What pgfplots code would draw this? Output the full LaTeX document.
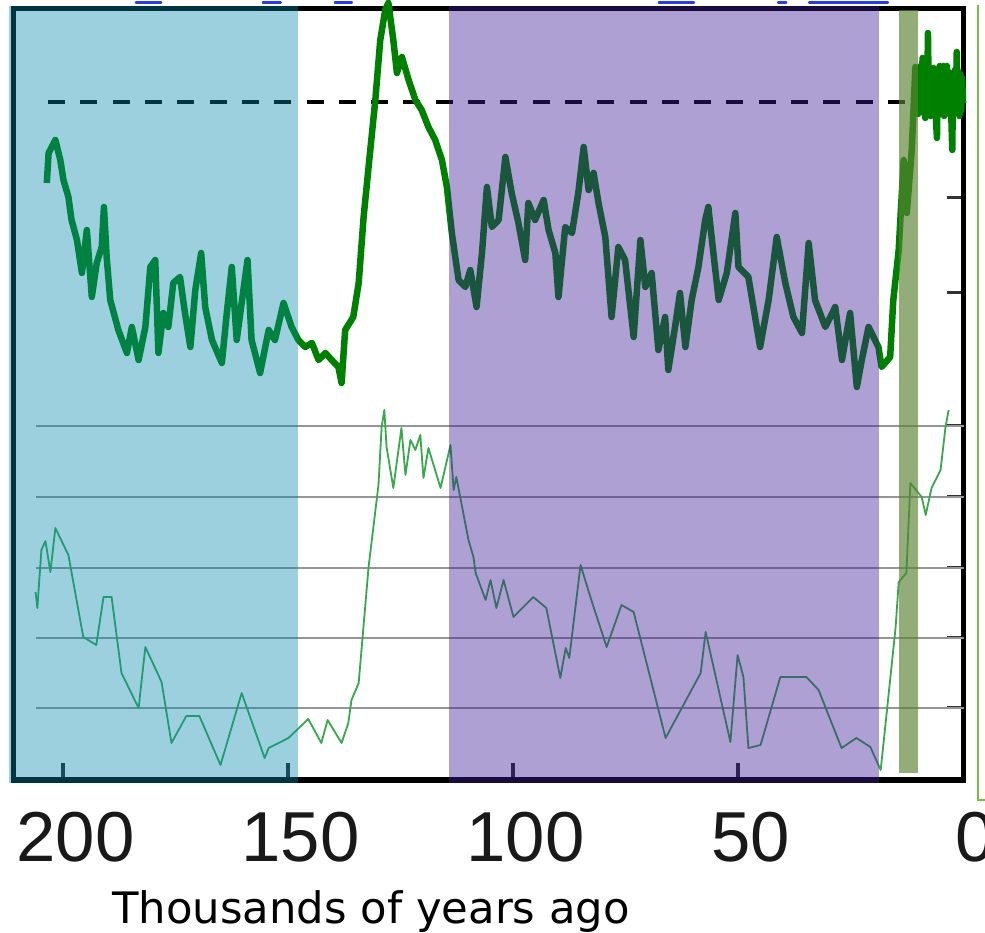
\documentclass[border=0pt]{standalone}
\usepackage{fontspec}
\setmainfont{DejaVu Sans}
\newfontfamily\tickfont{Liberation Sans}
\usepackage{pgfplots}
\pgfplotsset{compat=1.18}
\definecolor{topgreen}{RGB}{0,128,0}
\definecolor{lowgreen}{RGB}{55,168,75}
\definecolor{bandblue}{RGB}{0,135,173}
\definecolor{bandpurple}{RGB}{62,28,148}
\definecolor{bandolive}{RGB}{91,130,50}
\definecolor{gridgray}{RGB}{150,150,150}
\definecolor{decogreen}{RGB}{120,190,70}
\definecolor{scrapblue}{RGB}{40,60,235}
\begin{document}
\begin{tikzpicture}
\begin{axis}[
  name=ax, at={(0,0)}, anchor=south west,
  set layers, clip=false,
  scale only axis, width=950bp, height=771.5bp,
  x dir=reverse, xmin=0, xmax=211.1, ymin=-2, ymax=769.5,
  axis line style={line width=5bp, black},
  xtick={200,150,100,50,0}, xticklabels={200,150,100,50,0},
  xtick pos=bottom, ytick pos=right, tick align=inside,
  major tick length=17bp,
  x tick style={line width=4bp, black!85},
  ytick={70,140,210,281,352}, yticklabels={},
  y tick style={line width=3bp, black!80},
  extra y ticks={485,580}, extra y tick labels={},
  extra y tick style={tick style={draw=gray!55, line width=3bp}},
  xticklabel style={font=\fontsize{71}{71}\selectfont\tickfont, text=black!90, anchor=base, inner sep=0pt, yshift=-81bp, xshift=12bp},
  xlabel={Thousands of years ago},
  xlabel style={font=\fontsize{43.5}{43.5}\selectfont, at={(axis description cs:0.3763,0)}, anchor=base, inner sep=0pt, yshift=-143bp},
  unbounded coords=jump,
]
% horizontal grid lines (lower panel)
\addplot[gridgray, line width=2.8bp] coordinates {(206.1,352) (0,352)};
\addplot[gridgray, line width=2.8bp] coordinates {(206.1,281) (0,281)};
\addplot[gridgray, line width=2.8bp] coordinates {(206.1,210) (0,210)};
\addplot[gridgray, line width=2.8bp] coordinates {(206.1,140) (0,140)};
\addplot[gridgray, line width=2.8bp] coordinates {(206.1,70) (0,70)};
% dashed reference line
\addplot[black, line width=4bp, dash pattern=on 17bp off 15.3bp] coordinates {(203.4,675.5) (0,675.5)};
% fragments of a blue series peeking above the frame
\addplot[scrapblue, line width=2.5bp, line cap=round] coordinates {
(183.9,775.5) (178.3,775.5) (nan,nan)
(155.7,775.5) (151.7,775.5) (nan,nan)
(139.7,775.5) (135.9,775.5) (nan,nan)
(67.7,775.5) (59.9,775.5) (nan,nan)
(41.2,775.5) (39.4,775.5) (nan,nan)
(34.3,775.5) (16.8,775.5)
};
% upper series (temperature-like)
\addplot[topgreen, line width=6.5bp, line join=round] coordinates {
(203.7,595) (203.3,625) (201.8,638) (200.7,618) (200.0,598) (198.9,581) (198.2,558) (197.0,538)
(195.9,505) (194.8,548) (193.7,481) (192.6,515) (191.5,531) (191.0,571) (190.4,521) (189.6,478)
(187.8,448) (185.9,425) (184.8,451) (183.3,418) (181.8,451) (180.7,511) (179.6,518) (178.9,425)
(177.8,465) (176.7,451) (175.6,495) (174.1,501) (173.0,465) (171.8,431) (170.7,488) (169.4,525)
(168.5,471) (167.0,438) (164.8,415) (163.7,465) (162.6,511) (161.5,438) (160.4,475) (159.1,518)
(158.2,438) (156.3,405) (154.4,448) (153.0,438) (151.1,475) (149.3,451) (147.8,438) (146.3,431)
(144.8,435) (143.3,418) (141.8,425) (140.4,418) (138.9,411) (138.2,395) (137.4,448) (135.6,461)
(134.4,495) (133.3,561) (132.2,611) (130.7,678) (129.6,738) (128.5,768) (127.8,775) (126.7,738)
(125.9,705) (124.8,721) (123.3,698) (121.8,678) (120.4,668) (118.9,651) (117.4,638) (115.9,618)
(114.8,591) (113.7,545) (112.2,498) (110.7,491) (109.6,508) (108.2,471) (107.0,525) (105.9,591)
(104.8,551) (103.3,558) (101.8,621) (100.4,585) (98.9,555) (97.4,518) (96.7,575) (95.2,558)
(93.3,578) (92.2,548) (90.7,525) (90.0,481) (88.5,551) (87.0,545) (85.6,585) (84.4,631)
(83.3,588) (82.2,605) (81.1,575) (79.6,541) (78.2,461) (76.7,531) (75.2,518) (73.3,441)
(71.8,538) (70.7,491) (69.3,505) (67.8,428) (66.3,461) (65.6,408) (64.1,451) (63.0,485)
(61.8,431) (60.4,478) (58.9,511) (57.4,558) (56.7,571) (55.9,538) (54.4,478) (52.6,505)
(50.7,565) (50.0,511) (47.8,501) (45.2,431) (43.3,478) (41.5,541) (39.6,495) (37.8,461)
(35.9,445) (34.4,535) (33.0,478) (30.7,451) (28.5,471) (27.0,418) (25.2,465) (23.7,391)
(22.6,418) (21.1,451) (18.9,431) (18.2,411) (16.3,421) (15.6,478) (14.4,528) (13.3,618)
(12.6,565) (11.5,628) (10.7,711) (10.5,672) (10.3,706) (10.1,664) (9.9,708) (9.7,668)
(9.5,712) (9.3,666) (9.1,720) (8.9,670) (8.7,706) (8.5,660) (8.3,704) (8.1,668) (7.9,745)
(7.7,672) (7.5,708) (7.3,662) (7.1,706) (6.9,668) (6.7,710) (6.5,664) (6.3,704) (6.1,656)
(5.9,640) (5.7,702) (5.5,668) (5.3,712) (5.1,664) (4.9,708) (4.7,666) (4.5,712) (4.3,662)
(4.1,706) (3.9,666) (3.7,712) (3.5,668) (3.3,706) (3.1,664) (2.9,702) (2.7,660) (2.5,628)
(2.3,704) (2.1,666) (1.9,708) (1.7,668) (1.5,726) (1.3,668) (1.1,706) (0.9,662) (0.7,704)
(0.5,668) (0.3,700) (0.1,675)
};
% lower series (CO2-like)
\addplot[lowgreen, line width=1.8bp, line join=round] coordinates {
(206.2,186) (205.8,170) (204.9,228) (204.0,237) (202.9,206) (201.8,250) (198.9,223) (195.6,141)
(192.7,133) (191.1,181) (189.3,181) (187.1,105) (183.3,70) (181.8,131) (178.2,96) (176.0,35)
(172.7,62) (169.8,62) (165.1,13) (160.4,85) (155.3,20) (154.4,30) (150.0,40) (145.6,59)
(142.7,35) (141.3,58) (138.2,35) (136.7,55) (136.0,78) (134.4,95) (132.2,211) (130.0,293)
(129.3,351) (128.7,368) (128.2,331) (126.7,290) (124.9,350) (124.0,303) (122.9,338) (121.8,328)
(120.7,343) (120.0,300) (118.9,330) (116.2,290) (114.0,333) (113.3,288) (112.7,301) (110.0,238)
(108.9,221) (108.4,205) (106.2,178) (105.1,198) (103.8,170) (102.2,198) (100.0,161) (95.6,181)
(92.7,170) (89.6,100) (88.4,130) (87.6,120) (85.1,213) (82.7,178) (79.3,131) (76.0,173)
(73.3,166) (66.2,40) (58.4,105) (57.3,146) (51.8,36) (50.2,123) (48.9,101) (47.8,30)
(45.1,33) (40.7,101) (34.9,101) (32.2,88) (27.1,30) (23.8,40) (20.7,31) (18.4,8)
(15.1,150) (14.4,196) (12.7,205) (11.8,295) (9.3,281) (8.4,263) (7.1,290) (5.1,308)
(4.0,351) (3.3,368)
};
% translucent period bands on top
\addplot[on layer=axis foreground, draw=none, fill=bandblue, fill opacity=0.39] coordinates {(212.0,-5) (147.8,-5) (147.8,772) (212.0,772)} -- cycle;
\addplot[on layer=axis foreground, draw=none, fill=bandpurple, fill opacity=0.42] coordinates {(114.3,-5) (18.8,-5) (18.8,772) (114.3,772)} -- cycle;
\addplot[on layer=axis foreground, draw=none, fill=bandolive, fill opacity=0.66] coordinates {(14.4,5) (10.2,5) (10.2,768) (14.4,768)} -- cycle;
% thin green border at right edge
\draw[decogreen, line width=2bp] (axis cs:-3.2,773) -- (axis cs:-3.2,-22) -- (axis cs:-6,-22);
\end{axis}
\pgfresetboundingbox
\path[use as bounding box] (-13.5bp,-153bp) rectangle (971.5bp,780bp);
\end{tikzpicture}
\end{document}
